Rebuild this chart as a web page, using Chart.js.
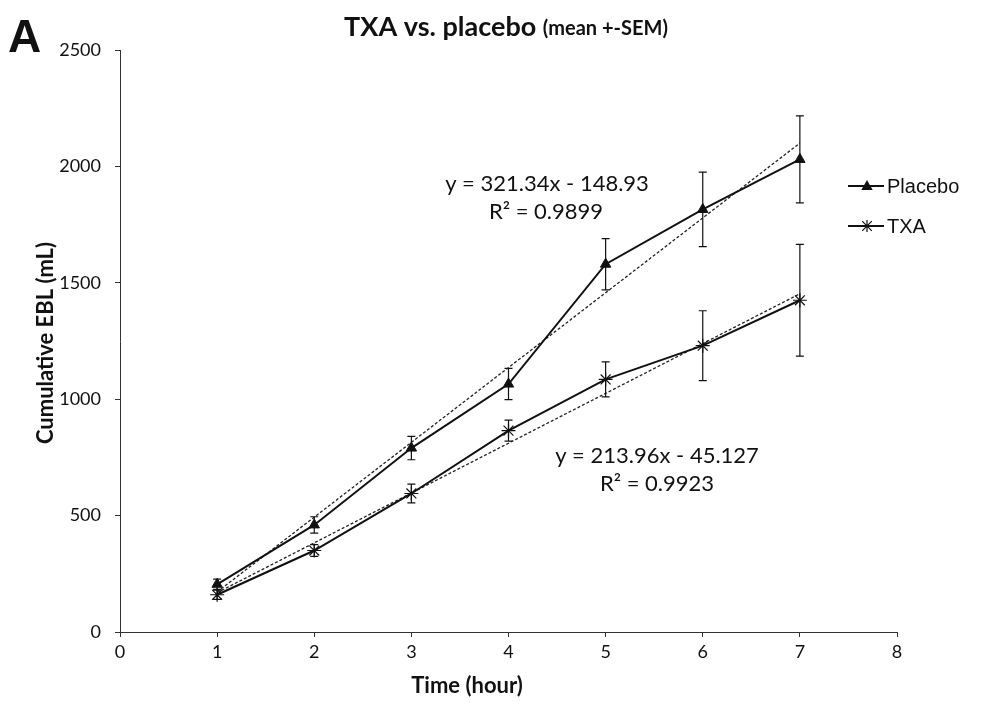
<!DOCTYPE html>
<html>
<head>
<meta charset="utf-8">
<script src="https://cdn.jsdelivr.net/npm/chart.js@4.4.1/dist/chart.umd.min.js"></script>
<style>
  html, body { margin: 0; padding: 0; background: #fff; }
  #wrap { width: 994px; height: 704px; position: relative; }
</style>
</head>
<body>
<div id="wrap"><canvas id="myChart" width="994" height="704"></canvas></div>
<script>
// values (cumulative EBL in mL, mean and SEM)
const hours = [1, 2, 3, 4, 5, 6, 7];
const placeboEbl = [205, 460, 790, 1065, 1580, 1815, 2030];
const placeboSem = [22, 35, 50, 67, 110, 160, 187];
const txaEbl = [160, 350, 595, 865, 1085, 1230, 1425];
const txaSem = [20, 25, 40, 45, 75, 150, 240];

// linear trend lines (end points at hour 1 and 7)
const trendHours = [1, 7];
const placeboTrend = [172, 2100];
const txaTrend = [169, 1453];

const xTicks = [0, 1, 2, 3, 4, 5, 6, 7, 8];
const yTicks = [0, 500, 1000, 1500, 2000, 2500];

const placeboEq = ["y = 321.34x - 148.93", "R\u00b2 = 0.9899"];
const txaEq = ["y = 213.96x - 45.127", "R\u00b2 = 0.9923"];

const toPoints = (xs, ys) => xs.map((x, i) => ({ x: x, y: ys[i] }));

function drawTriangle(ctx, x, y, r) {
  ctx.beginPath();
  ctx.moveTo(x, y - r);
  ctx.lineTo(x + r * 0.95, y + r * 0.65);
  ctx.lineTo(x - r * 0.95, y + r * 0.65);
  ctx.closePath();
  ctx.fill();
}

function drawStar(ctx, x, y, r) {
  ctx.beginPath();
  ctx.moveTo(x, y - r); ctx.lineTo(x, y + r);
  ctx.moveTo(x - r * 0.8, y - r * 0.8); ctx.lineTo(x + r * 0.8, y + r * 0.8);
  ctx.moveTo(x - r * 0.8, y + r * 0.8); ctx.lineTo(x + r * 0.8, y - r * 0.8);
  ctx.stroke();
}

// error bars, titles, legend and equations
const extras = {
  id: "extras",
  afterDatasetsDraw(chart) {
    const ctx = chart.ctx;
    const xs = chart.scales.x, ys = chart.scales.y;
    const bars = [[placeboEbl, placeboSem], [txaEbl, txaSem]];
    ctx.save();
    ctx.strokeStyle = "#111";
    ctx.lineWidth = 1.2;
    bars.forEach(([vals, sem]) => {
      hours.forEach((h, i) => {
        const px = xs.getPixelForValue(h);
        const top = ys.getPixelForValue(vals[i] + sem[i]);
        const bot = ys.getPixelForValue(vals[i] - sem[i]);
        ctx.beginPath();
        ctx.moveTo(px, top); ctx.lineTo(px, bot);
        ctx.moveTo(px - 4, top); ctx.lineTo(px + 4, top);
        ctx.moveTo(px - 4, bot); ctx.lineTo(px + 4, bot);
        ctx.stroke();
      });
    });
    ctx.restore();
  },
  afterDraw(chart) {
    const ctx = chart.ctx;
    ctx.save();
    ctx.fillStyle = "#111";
    ctx.strokeStyle = "#111";

    // panel letter
    ctx.font = "bold 46px 'Liberation Sans', Arial, sans-serif";
    ctx.textAlign = "left";
    ctx.textBaseline = "alphabetic";
    ctx.fillText("A", 8, 52);

    // title with smaller suffix
    const big = "TXA vs. placebo ";
    const small = "(mean +-SEM)";
    ctx.font = "bold 27px Lato, sans-serif";
    const w1 = ctx.measureText(big).width;
    ctx.font = "bold 20px Lato, sans-serif";
    const w2 = ctx.measureText(small).width;
    let tx = 506 - (w1 + w2) / 2;
    ctx.font = "bold 27px Lato, sans-serif";
    ctx.fillText(big, tx, 36);
    ctx.font = "bold 20px Lato, sans-serif";
    ctx.fillText(small, tx + w1, 35);

    // axis titles
    ctx.textAlign = "center";
    ctx.textBaseline = "middle";
    ctx.font = "bold 22px Lato, sans-serif";
    ctx.fillText("Time (hour)", 467, 686);
    ctx.save();
    ctx.translate(46, 343);
    ctx.rotate(-Math.PI / 2);
    ctx.fillText("Cumulative EBL (mL)", 0, 0);
    ctx.restore();

    // trend line equations
    ctx.font = "22px Lato, sans-serif";
    ctx.fillText(placeboEq[0], 547, 184);
    ctx.fillText(placeboEq[1], 546, 212);
    ctx.fillText(txaEq[0], 657, 456);
    ctx.fillText(txaEq[1], 657, 484);

    // legend
    ctx.lineWidth = 2;
    ctx.font = "20px 'Liberation Sans', Arial, sans-serif";
    ctx.textAlign = "left";
    [["Placebo", 186], ["TXA", 226]].forEach(([label, ly], k) => {
      ctx.beginPath();
      ctx.moveTo(848, ly); ctx.lineTo(884, ly);
      ctx.stroke();
      if (k === 0) {
        drawTriangle(ctx, 867, ly, 6);
      } else {
        ctx.lineWidth = 1.2;
        drawStar(ctx, 867, ly, 6);
        ctx.lineWidth = 2;
      }
      ctx.fillText(label, 887, ly + 1);
    });
    ctx.restore();
  }
};

const ctx = document.getElementById("myChart").getContext("2d");

new Chart(ctx, {
  type: "line",
  data: {
    datasets: [
      {
        label: "Placebo",
        data: toPoints(hours, placeboEbl),
        borderColor: "#111",
        backgroundColor: "#111",
        borderWidth: 2,
        pointStyle: "triangle",
        pointRadius: 6,
        pointBorderWidth: 1,
        tension: 0,
      },
      {
        label: "TXA",
        data: toPoints(hours, txaEbl),
        borderColor: "#111",
        backgroundColor: "#111",
        borderWidth: 2,
        pointStyle: "star",
        pointRadius: 7,
        pointBorderWidth: 1.2,
        tension: 0,
      },
      {
        label: "Placebo trend",
        data: toPoints(trendHours, placeboTrend),
        borderColor: "#222",
        borderWidth: 1.3,
        borderDash: [3, 2],
        pointRadius: 0,
      },
      {
        label: "TXA trend",
        data: toPoints(trendHours, txaTrend),
        borderColor: "#222",
        borderWidth: 1.3,
        borderDash: [3, 2],
        pointRadius: 0,
      },
    ],
  },
  options: {
    responsive: false,
    animation: false,
    layout: { padding: { top: 50, right: 97, left: 0, bottom: 0 } },
    plugins: {
      legend: { display: false },
      tooltip: { enabled: false },
    },
    scales: {
      x: {
        type: "linear",
        min: 0,
        max: 8,
        afterBuildTicks: (scale) => { scale.ticks = xTicks.map((v) => ({ value: v })); },
        afterFit: (scale) => { scale.height = 72; },
        grid: { drawOnChartArea: false, drawTicks: true, tickLength: 5, color: "#333" },
        border: { color: "#333", width: 1 },
        ticks: {
          color: "#111",
          padding: 4,
          font: { family: "Lato, sans-serif", size: 18 },
          callback: (v) => String(v),
        },
      },
      y: {
        type: "linear",
        min: 0,
        max: 2500,
        afterBuildTicks: (scale) => { scale.ticks = yTicks.map((v) => ({ value: v })); },
        afterFit: (scale) => { scale.width = 120; },
        grid: { drawOnChartArea: false, drawTicks: true, tickLength: 5, color: "#333" },
        border: { color: "#333", width: 1 },
        ticks: {
          color: "#111",
          padding: 14,
          font: { family: "Lato, sans-serif", size: 18 },
          callback: (v) => String(v),
        },
      },
    },
  },
  plugins: [extras],
});
</script>
</body>
</html>
